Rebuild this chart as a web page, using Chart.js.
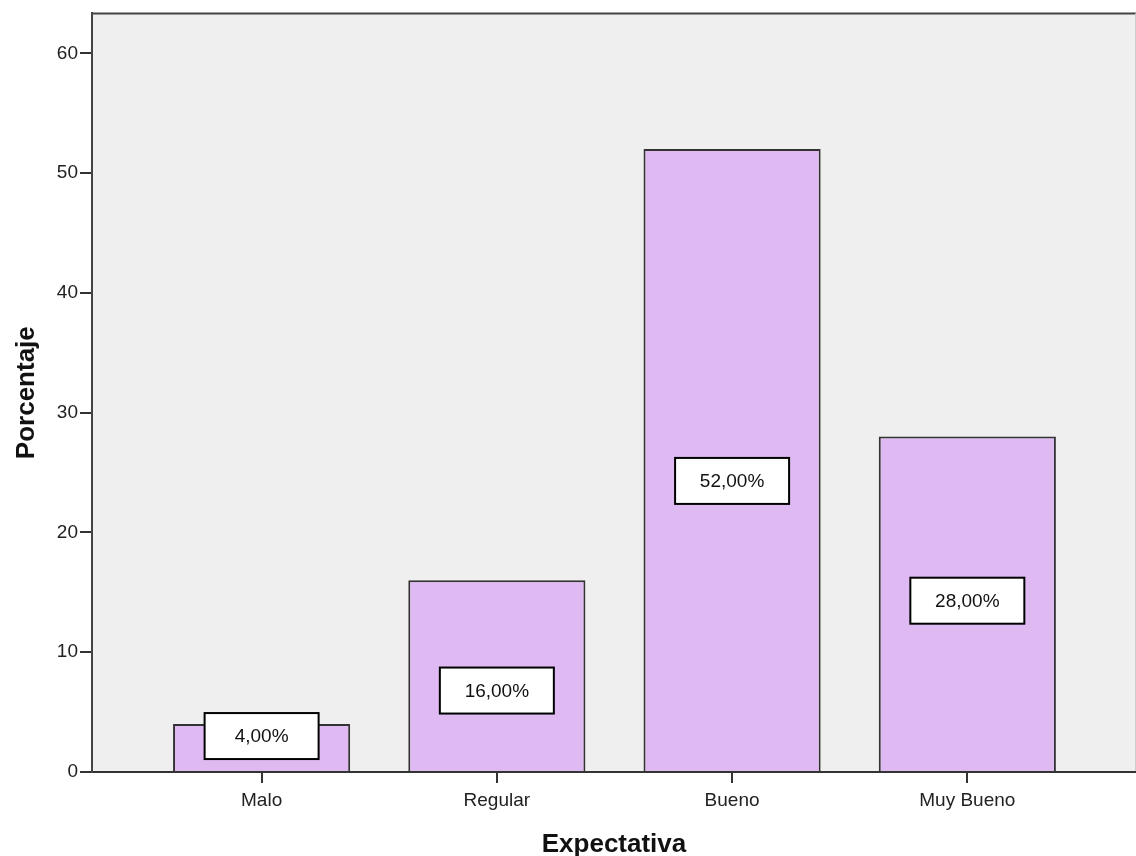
<!DOCTYPE html>
<html>
<head>
<meta charset="utf-8">
<script src="https://cdn.jsdelivr.net/npm/chart.js@4/dist/chart.umd.min.js"></script>
<style>
  html, body { margin: 0; padding: 0; background: #fff; }
  #wrap { width: 1136px; height: 856px; }
</style>
</head>
<body>
<div id="wrap"><canvas id="grafico"></canvas></div>
<script>
// datos del grafico
const categorias = ['Malo', 'Regular', 'Bueno', 'Muy Bueno'];
const porcentajes = [4, 16, 52, 28];
const etiquetas = ['4,00%', '16,00%', '52,00%', '28,00%'];
const posEtiqueta = [3, 6.8, 24.3, 14.3]; // altura (en %) del centro de cada caja
const ticksY = [0, 10, 20, 30, 40, 50, 60];

const fuente = '"Liberation Sans", Arial, sans-serif';

// fondo gris y marco del area del grafico
const fondo = {
  id: 'fondo',
  beforeDraw(chart) {
    const { ctx, chartArea: a } = chart;
    ctx.save();
    ctx.fillStyle = '#efefef';
    ctx.fillRect(a.left, a.top, a.right - a.left, a.bottom - a.top);
    ctx.strokeStyle = '#444';
    ctx.lineWidth = 2;
    ctx.beginPath();
    ctx.moveTo(a.left, a.bottom);
    ctx.lineTo(a.left, a.top);
    ctx.lineTo(a.right, a.top);
    ctx.stroke();
    ctx.strokeStyle = '#ccc';
    ctx.lineWidth = 1;
    ctx.beginPath();
    ctx.moveTo(a.right - 0.5, a.top);
    ctx.lineTo(a.right - 0.5, a.bottom);
    ctx.stroke();
    ctx.restore();
  }
};

// cajas blancas con el porcentaje
const cajas = {
  id: 'cajas',
  afterDatasetsDraw(chart) {
    const { ctx, scales } = chart;
    ctx.save();
    etiquetas.forEach((t, i) => {
      const px = scales.x.getPixelForValue(i);
      const py = scales.y.getPixelForValue(posEtiqueta[i]);
      const w = 114, h = 46;
      ctx.fillStyle = '#fff';
      ctx.fillRect(px - w / 2, py - h / 2, w, h);
      ctx.strokeStyle = '#000';
      ctx.lineWidth = 2;
      ctx.strokeRect(px - w / 2, py - h / 2, w, h);
      ctx.fillStyle = '#111';
      ctx.font = '19px ' + fuente;
      ctx.textAlign = 'center';
      ctx.textBaseline = 'middle';
      ctx.fillText(t, px, py + 1);
    });
    ctx.restore();
  }
};

new Chart(document.getElementById('grafico'), {
  type: 'bar',
  data: {
    datasets: [{
      data: porcentajes.map((v, i) => ({ x: i, y: v })),
      backgroundColor: '#dfb9f2',
      borderColor: '#333',
      borderWidth: 2,
      barPercentage: 0.753,
      categoryPercentage: 1
    }]
  },
  options: {
    responsive: true,
    maintainAspectRatio: false,
    animation: false,
    layout: { padding: { top: 12, left: 0, right: 0, bottom: 0 } },
    plugins: { legend: { display: false }, tooltip: { enabled: false } },
    scales: {
      x: {
        type: 'linear',
        offset: false,
        min: -0.721,
        max: 3.717,
        afterBuildTicks: s => { s.ticks = categorias.map((_, i) => ({ value: i })); },
        afterFit: s => { s.height = 84; },
        grid: { display: true, offset: false, drawOnChartArea: false, drawTicks: true, tickLength: 11, color: '#333', lineWidth: 2 },
        border: { display: true, color: '#333', width: 2 },
        ticks: {
          callback: v => categorias[v],
          color: '#222',
          font: { family: fuente, size: 19 },
          padding: 6
        },
        title: {
          display: true,
          text: 'Expectativa',
          color: '#111',
          font: { family: fuente, size: 26, weight: 'bold', lineHeight: 0.85 },
          padding: { top: 14, bottom: 0 }
        }
      },
      y: {
        min: 0,
        max: 63.33,
        afterBuildTicks: s => { s.ticks = ticksY.map(v => ({ value: v })); },
        afterFit: s => { s.width = 92; },
        grid: { display: true, drawOnChartArea: false, drawTicks: true, tickLength: 12, color: '#333', lineWidth: 2 },
        border: { display: true, color: '#444', width: 2 },
        ticks: {
          color: '#222',
          font: { family: fuente, size: 19 },
          padding: 2
        },
        title: {
          display: true,
          text: 'Porcentaje',
          color: '#111',
          font: { family: fuente, size: 26, weight: 'bold' },
          padding: { top: 11, bottom: 20 }
        }
      }
    }
  },
  plugins: [fondo, cajas]
});
</script>
</body>
</html>
